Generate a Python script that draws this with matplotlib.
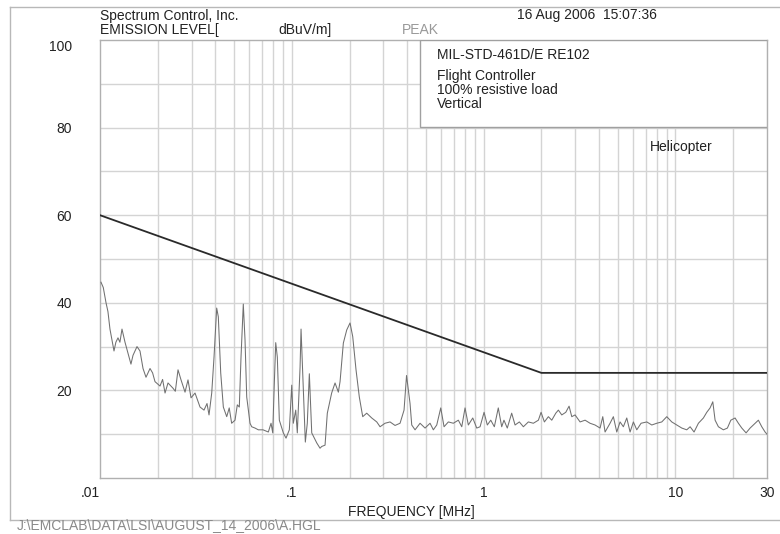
import matplotlib
matplotlib.use("Agg")
import matplotlib.pyplot as plt
from matplotlib.patches import Rectangle
from matplotlib.lines import Line2D

plt.rcParams['font.family'] = ['Liberation Sans', 'DejaVu Sans']

# ---- data ----
freq_mhz = [
    0.01012, 0.0104, 0.01075, 0.011, 0.01127, 0.01183, 0.0121, 0.01241, 0.0127, 0.01302,
    0.0135, 0.014, 0.0145, 0.01486, 0.01559, 0.01616, 0.01676, 0.01737, 0.01823, 0.0188,
    0.01935, 0.02055, 0.0212, 0.02183, 0.02262, 0.02402, 0.0247, 0.02551, 0.02645, 0.02775,
    0.02876, 0.02982, 0.03129, 0.03322, 0.03485, 0.03613, 0.03701, 0.03823, 0.0393, 0.04058,
    0.04138, 0.04259, 0.04395, 0.04577, 0.04717, 0.04856, 0.05057, 0.05198, 0.05324, 0.05434,
    0.05585, 0.05702, 0.05819, 0.06054, 0.06179, 0.0643, 0.06689, 0.07077, 0.07543, 0.07792,
    0.07953, 0.0808, 0.08243, 0.08402, 0.08607, 0.0903, 0.09328, 0.09705, 0.0999, 0.1018,
    0.1048, 0.1068, 0.1104, 0.1117, 0.1148, 0.1176, 0.1204, 0.1234, 0.127, 0.1349,
    0.1403, 0.1432, 0.149, 0.1531, 0.1613, 0.168, 0.1748, 0.1784, 0.1856, 0.1933,
    0.2011, 0.2077, 0.2161, 0.2248, 0.2342, 0.2457, 0.261, 0.2772, 0.2884, 0.3061,
    0.3251, 0.3452, 0.3666, 0.3846, 0.3963, 0.4133, 0.4218, 0.4389, 0.4661, 0.4949,
    0.5255, 0.5467, 0.5695, 0.5975, 0.6217, 0.6546, 0.695, 0.738, 0.769, 0.7998,
    0.832, 0.8775, 0.9205, 0.958, 1.005, 1.045, 1.089, 1.137, 1.192, 1.242,
    1.276, 1.328, 1.4, 1.458, 1.535, 1.611, 1.71, 1.816, 1.929, 1.992,
    2.073, 2.175, 2.265, 2.377, 2.452, 2.554, 2.68, 2.788, 2.88, 2.996,
    3.182, 3.379, 3.586, 3.808, 4.045, 4.178, 4.295, 4.56, 4.745, 4.942,
    5.142, 5.35, 5.573, 5.799, 6.033, 6.284, 6.618, 7.088, 7.525, 7.99,
    8.484, 9.008, 9.565, 10.16, 10.79, 11.45, 11.92, 12.5, 13.17, 13.98,
    14.56, 15.15, 15.65, 16.09, 16.74, 17.77, 18.65, 19.43, 20.45, 21.28,
    22.17, 23.34, 24.49, 26.0, 27.05, 28.18, 29.32, 30.0,
]
level_dbuv = [
    44.7, 43.5, 40.0, 38.0, 34.0, 29.0, 31.0, 32.0, 31.0, 34.0,
    31.0, 28.5, 26.0, 28.0, 30.0, 29.0, 25.0, 23.0, 25.0, 24.0,
    22.0, 21.0, 22.5, 19.4, 21.7, 20.5, 19.8, 24.7, 22.4, 19.6,
    22.4, 18.3, 19.4, 16.2, 15.5, 17.0, 14.4, 19.4, 27.6, 38.8,
    36.8, 24.0, 16.2, 14.0, 16.0, 12.5, 13.2, 16.7, 16.2, 27.6,
    39.7, 31.5, 18.5, 12.5, 11.7, 11.4, 11.0, 11.0, 10.5, 12.5,
    10.3, 20.0, 30.9, 27.6, 13.2, 10.3, 9.1, 11.0, 21.2, 12.5,
    15.5, 10.3, 25.3, 34.0, 20.0, 8.2, 12.5, 23.8, 10.3, 8.0,
    6.8, 7.2, 7.5, 14.8, 19.4, 21.7, 19.6, 22.0, 30.8, 33.8,
    35.4, 32.3, 24.7, 18.5, 14.0, 14.8, 13.7, 12.8, 11.7, 12.5,
    12.8, 12.0, 12.5, 15.5, 23.4, 17.0, 12.1, 11.0, 12.5, 11.4,
    12.5, 11.0, 12.1, 16.0, 11.7, 12.8, 12.5, 13.2, 11.7, 16.0,
    12.1, 13.7, 11.4, 11.7, 15.0, 12.1, 13.2, 11.7, 16.0, 11.7,
    13.2, 11.4, 14.8, 12.1, 12.8, 11.7, 12.8, 12.5, 13.2, 15.0,
    12.8, 14.0, 13.2, 14.8, 15.5, 14.4, 15.0, 16.4, 14.0, 14.4,
    12.8, 13.2, 12.5, 12.1, 11.4, 14.0, 10.5, 12.5, 14.0, 10.5,
    12.8, 11.7, 13.7, 10.5, 12.8, 11.0, 12.5, 12.8, 12.1, 12.5,
    12.8, 14.0, 12.8, 12.1, 11.4, 11.0, 11.7, 10.5, 12.5, 13.7,
    15.0, 16.0, 17.4, 13.2, 11.7, 11.0, 11.4, 13.2, 13.7, 12.5,
    11.4, 10.3, 11.4, 12.5, 13.2, 11.7, 10.5, 10.0,
]
limit_freq = [0.01, 2.0, 30.0]
limit_level = [60.0, 24.0, 24.0]

x_ticks = [0.01, 0.1, 1, 10, 30]
x_tick_labels = ['.01', '.1', '1', '10', '30']
y_ticks = [20, 40, 60, 80, 100]
y_tick_labels = ['20', '40', '60', '80', '100']
x_grid = [0.02, 0.03, 0.04, 0.05, 0.06, 0.07, 0.08, 0.09, 0.1,
          0.2, 0.3, 0.4, 0.5, 0.6, 0.7, 0.8, 0.9, 1,
          2, 3, 4, 5, 6, 7, 8, 9, 10, 20]
y_grid = [10, 20, 30, 40, 50, 60, 70, 80, 90]

W, H = 780, 534
fig = plt.figure(figsize=(W / 100, H / 100), dpi=100)
ax = fig.add_axes([100 / W, 1 - 478 / H, 667 / W, 438 / H])
ax.set_xscale('log')
ax.set_xlim(0.01, 30)
ax.set_ylim(0, 100)

grid_c = '#d4d4d4'
for gx in x_grid:
    ax.axvline(gx, color=grid_c, lw=1.0, zorder=1)
for gy in y_grid:
    ax.axhline(gy, color=grid_c, lw=1.0, zorder=1)

for s in ax.spines.values():
    s.set_color('#b0b0b0')
    s.set_linewidth(1.0)

ax.set_xticks(x_ticks)
ax.set_xticklabels(x_tick_labels)
ax.set_yticks(y_ticks)
ax.set_yticklabels(y_tick_labels)
ax.xaxis.set_minor_locator(plt.NullLocator())
ax.tick_params(axis='both', length=0, labelsize=10, colors='#222222')
ax.tick_params(axis='x', pad=6)
ax.tick_params(axis='y', pad=20)
xl = ax.get_xticklabels()
xl[0].set_ha('right')
yl = ax.get_yticklabels()
yl[-1].set_va('top')

ax.plot(freq_mhz, level_dbuv, color='#707070', lw=0.75, zorder=3)
ax.plot(limit_freq, limit_level, color='#2a2a2a', lw=1.3, zorder=4)

# info box
box = Rectangle((0.466, 80.1), 30 - 0.466, 19.9, facecolor='white',
                edgecolor='#a0a0a0', lw=1.0, zorder=5)
ax.add_patch(box)

def ftxt(x, y, s, **kw):
    fig.text(x / W, 1 - y / H, s, **kw)

base = dict(fontsize=10, color='#222222', va='center')
ftxt(437, 55, 'MIL-STD-461D/E RE102', **base)
ftxt(437, 76, 'Flight Controller', **base)
ftxt(437, 90, '100% resistive load', **base)
ftxt(437, 104, 'Vertical', **base)
ftxt(650, 147, 'Helicopter', **base)

ftxt(100, 16, 'Spectrum Control, Inc.', **base)
ftxt(100, 30, 'EMISSION LEVEL[', **base)
ftxt(278, 30, 'dBuV/m]', **base)
ftxt(402, 30, 'PEAK', fontsize=10, color='#999999', va='center')
ftxt(517, 15, '16 Aug 2006  15:07:36', **base)
ftxt(411, 512, 'FREQUENCY [MHz]', ha='center', **base)
ftxt(17, 525, 'J:\\EMCLAB\\DATA\\LSI\\AUGUST_14_2006\\A.HGL', fontsize=10,
     color='#8a8a8a', va='center')

# outer frame
fc = '#b8b8b8'
fig.add_artist(Line2D([10 / W, 1.0], [1 - 7 / H, 1 - 7 / H], color=fc, lw=1.0))
fig.add_artist(Line2D([10 / W, 10 / W], [1 - 7 / H, 1 - 520 / H], color=fc, lw=1.0))
fig.add_artist(Line2D([10 / W, 1.0], [1 - 520 / H, 1 - 520 / H], color=fc, lw=1.0))

fig.savefig('out.png', dpi=100)
